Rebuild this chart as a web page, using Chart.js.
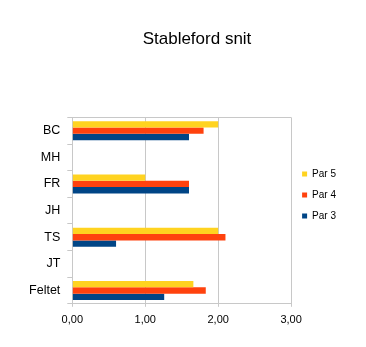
<!DOCTYPE html>
<html>
<head>
<meta charset="utf-8">
<script src="https://cdn.jsdelivr.net/npm/chart.js@4/dist/chart.umd.min.js"></script>
<style>
  html, body { margin: 0; padding: 0; background: #ffffff; }
  #wrap { width: 366px; height: 347px; }
</style>
</head>
<body>
<div id="wrap"><canvas id="chart" width="366" height="347"></canvas></div>
<script>
// Stableford average per player and hole par
const players = ['BC', 'MH', 'FR', 'JH', 'TS', 'JT', 'Feltet'];
const par5 = [2.00, null, 1.00, null, 2.00, null, 1.66];
const par4 = [1.80, null, 1.60, null, 2.10, null, 1.83];
const par3 = [1.60, null, 1.60, null, 0.60, null, 1.26];
const seriesNames = ['Par 5', 'Par 4', 'Par 3'];
const xTickLabels = ['0,00', '1,00', '2,00', '3,00'];

const gridGrey = '#c8c8c8';
const font = 'Liberation Sans, Arial, sans-serif';

new Chart(document.getElementById('chart'), {
  type: 'bar',
  data: {
    labels: players,
    datasets: [
      { label: seriesNames[0], data: par5, backgroundColor: '#ffd320', borderWidth: 0 },
      { label: seriesNames[1], data: par4, backgroundColor: '#ff420e', borderWidth: 0 },
      { label: seriesNames[2], data: par3, backgroundColor: '#004586', borderWidth: 0 }
    ]
  },
  options: {
    indexAxis: 'y',
    responsive: false,
    animation: false,
    devicePixelRatio: 1,
    categoryPercentage: 0.71,
    barPercentage: 1.0,
    layout: { padding: { left: 28, right: 0, top: 0, bottom: 13 } },
    scales: {
      x: {
        min: 0,
        max: 3,
        ticks: {
          stepSize: 1,
          color: '#000000',
          padding: 7,
          font: { family: font, size: 11 },
          callback: (v, i) => xTickLabels[i]
        },
        grid: { color: gridGrey, tickColor: gridGrey, tickLength: 3, lineWidth: 1 },
        border: { display: true, color: gridGrey }
      },
      y: {
        ticks: {
          color: '#000000',
          padding: 7,
          font: { family: font, size: 12.5 }
        },
        grid: {
          offset: true,
          color: ctx => ctx.index === 0 ? gridGrey : 'rgba(0,0,0,0)',
          tickColor: gridGrey,
          tickLength: 5
        },
        border: { display: true, color: gridGrey },
        afterFit: scale => { scale.width = 44.3; }
      },
      // empty margin axis outside the legend
      yPad: {
        axis: 'y',
        position: 'right',
        weight: 2000,
        display: true,
        ticks: { display: false },
        grid: { display: false },
        border: { display: false },
        afterFit: scale => { scale.width = 20; }
      }
    },
    plugins: {
      title: {
        display: true,
        text: 'Stableford snit',
        color: '#000000',
        font: { family: font, size: 17, weight: 'normal' },
        padding: { top: 29, bottom: 68 }
      },
      legend: {
        position: 'right',
        align: 'center',
        title: { display: true, text: '', padding: { top: 44, bottom: 0 }, font: { size: 10 } },
        labels: {
          boxWidth: 5,
          boxHeight: 5,
          padding: 11,
          color: '#000000',
          font: { family: font, size: 10 }
        }
      },
      tooltip: { enabled: false }
    }
  }
});
</script>
</body>
</html>
